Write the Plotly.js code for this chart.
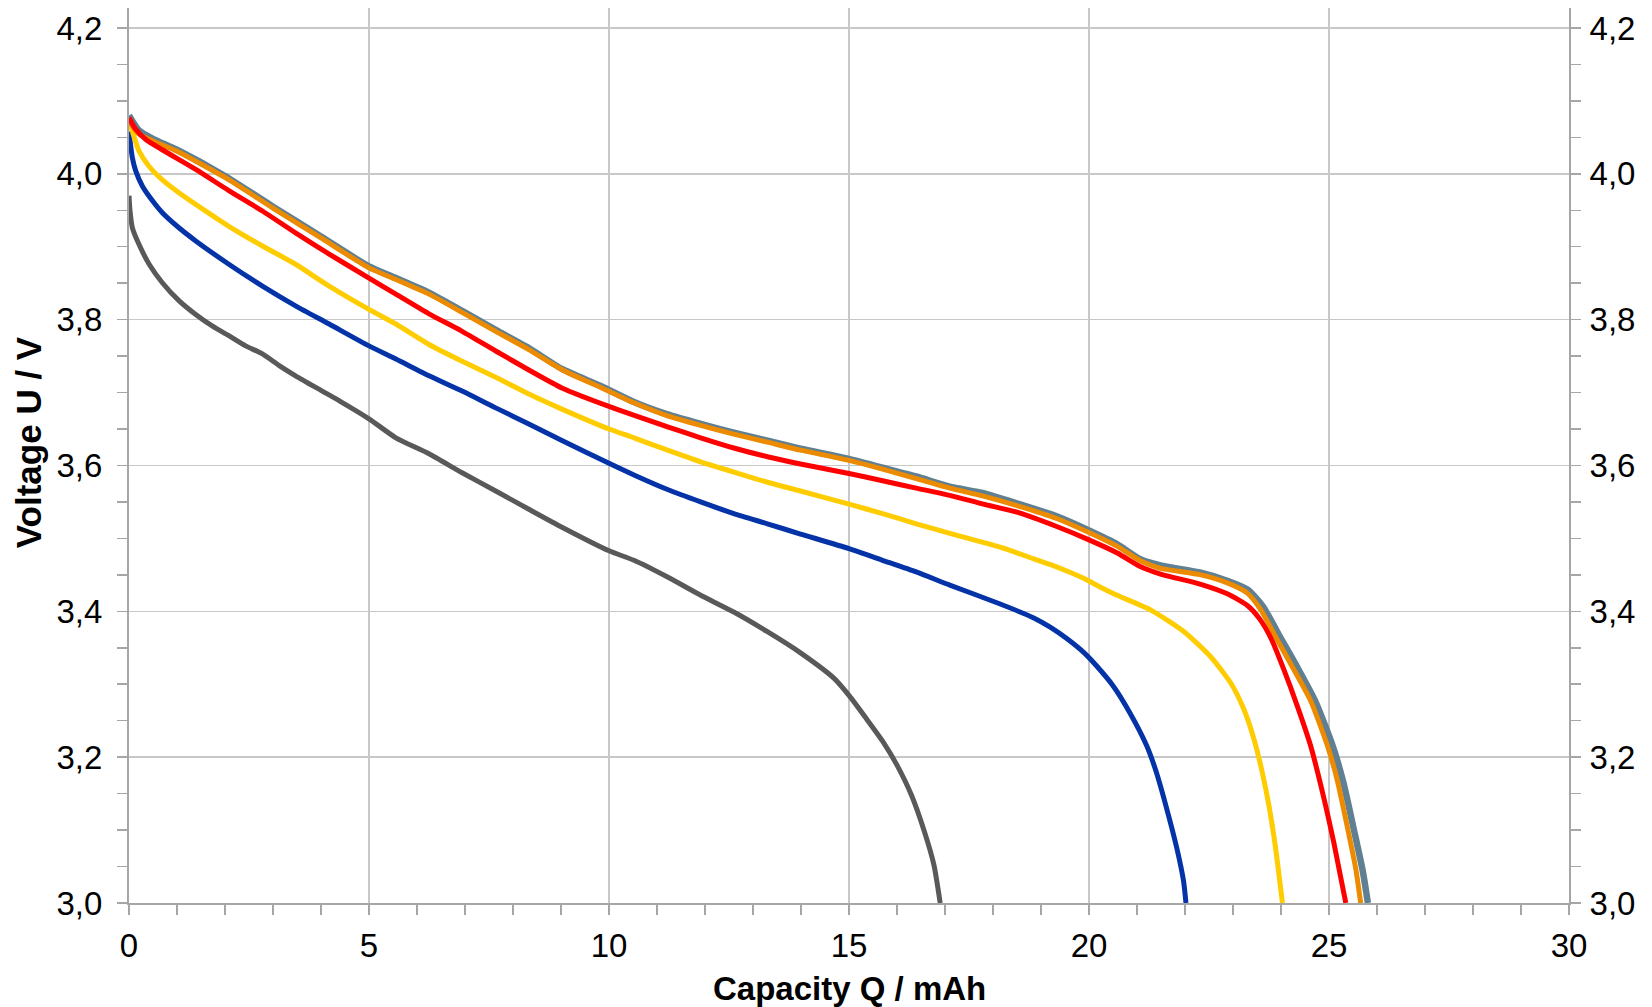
<!DOCTYPE html>
<html>
<head>
<meta charset="utf-8">
<script src="https://cdn.plot.ly/plotly-3.0.1.min.js"></script>
<style>
  html, body { margin: 0; padding: 0; background: #ffffff; }
  #chart { width: 1652px; height: 1007px; }
</style>
</head>
<body>
<div id="chart"></div>
<script>
// ---- Data (Capacity Q / mAh vs Voltage U / V) ----
const grayQ = [0, 0.02, 0.07, 0.21, 0.42, 0.69, 1.04, 1.39, 1.74, 2.08, 2.43, 2.78, 3.13, 3.47, 4.0, 4.4, 5.0, 5.56, 6.25, 6.94, 7.64, 8.33, 9.03, 10.0, 10.52, 11.22, 11.91, 12.6, 13.3, 13.99, 14.69, 15.02, 15.37, 15.72, 16.0, 16.3, 16.57, 16.77, 16.9];
const grayU = [3.97, 3.95, 3.926, 3.903, 3.876, 3.851, 3.826, 3.807, 3.791, 3.778, 3.764, 3.753, 3.737, 3.723, 3.703, 3.688, 3.664, 3.638, 3.616, 3.590, 3.565, 3.540, 3.515, 3.483, 3.470, 3.447, 3.422, 3.399, 3.372, 3.343, 3.308, 3.283, 3.252, 3.220, 3.189, 3.148, 3.098, 3.052, 3.0];

const blueQ = [0, 0.07, 0.14, 0.28, 0.49, 0.69, 1.04, 1.39, 2.08, 2.78, 3.47, 4.17, 5.0, 5.56, 6.25, 6.94, 7.64, 8.33, 9.03, 10.0, 10.52, 11.22, 11.91, 12.6, 13.3, 13.99, 15.0, 15.7, 16.4, 17.1, 18.15, 18.85, 19.2, 19.55, 19.9, 20.16, 20.5, 20.85, 21.2, 21.4, 21.6, 21.83, 21.97, 22.02];
const blueU = [4.058, 4.022, 4.004, 3.983, 3.963, 3.947, 3.926, 3.908, 3.876, 3.846, 3.819, 3.794, 3.764, 3.746, 3.723, 3.702, 3.679, 3.657, 3.634, 3.603, 3.587, 3.567, 3.550, 3.534, 3.520, 3.506, 3.486, 3.470, 3.454, 3.436, 3.410, 3.391, 3.378, 3.362, 3.343, 3.325, 3.298, 3.261, 3.216, 3.180, 3.134, 3.075, 3.030, 3.0];

const yellowQ = [0, 0.07, 0.21, 0.42, 0.69, 1.04, 1.39, 2.08, 2.78, 3.47, 4.17, 5.0, 5.56, 6.25, 6.94, 7.64, 8.33, 9.03, 10.0, 10.52, 11.22, 11.91, 12.6, 13.3, 13.99, 15.0, 15.7, 16.4, 17.1, 18.15, 18.85, 19.2, 19.55, 19.9, 20.24, 20.55, 21.28, 21.98, 22.53, 22.95, 23.23, 23.44, 23.61, 23.75, 23.89, 24.03];
const yellowU = [4.072, 4.058, 4.031, 4.010, 3.992, 3.974, 3.958, 3.928, 3.901, 3.876, 3.846, 3.814, 3.794, 3.766, 3.743, 3.721, 3.698, 3.677, 3.650, 3.638, 3.621, 3.605, 3.591, 3.577, 3.565, 3.547, 3.534, 3.520, 3.507, 3.488, 3.472, 3.464, 3.455, 3.445, 3.433, 3.423, 3.402, 3.372, 3.338, 3.302, 3.265, 3.224, 3.179, 3.133, 3.074, 3.0];

const redQ = [0, 0.14, 0.35, 0.69, 1.39, 2.08, 2.78, 3.47, 4.17, 5.0, 5.56, 6.25, 6.94, 7.64, 8.33, 9.03, 10.0, 11.22, 11.91, 12.6, 13.3, 13.99, 15.0, 15.7, 16.4, 17.1, 17.8, 18.5, 19.34, 20.0, 20.59, 21.08, 21.49, 22.33, 22.88, 23.3, 23.55, 23.8, 24.06, 24.34, 24.62, 24.9, 25.1, 25.35];
const redU = [4.077, 4.061, 4.047, 4.033, 4.006, 3.977, 3.949, 3.919, 3.890, 3.857, 3.835, 3.808, 3.784, 3.757, 3.731, 3.706, 3.681, 3.653, 3.638, 3.624, 3.612, 3.602, 3.589, 3.579, 3.569, 3.559, 3.547, 3.536, 3.516, 3.498, 3.480, 3.461, 3.451, 3.437, 3.424, 3.408, 3.390, 3.362, 3.320, 3.270, 3.215, 3.142, 3.083, 3.0];

const steelQ = [0, 0.2, 0.5, 1.0, 2.0, 3.0, 4.0, 5.0, 5.56, 6.25, 6.94, 7.64, 8.33, 9.03, 9.83, 10.52, 11.22, 11.91, 12.6, 13.3, 13.99, 15.0, 15.7, 16.4, 17.1, 17.8, 18.5, 19.34, 20.0, 20.59, 21.08, 21.49, 22.33, 22.88, 23.3, 23.62, 23.98, 24.35, 24.72, 25.08, 25.3, 25.52, 25.7, 25.81];
const steelU = [4.080, 4.060, 4.048, 4.033, 3.997, 3.955, 3.914, 3.873, 3.857, 3.837, 3.812, 3.786, 3.761, 3.732, 3.709, 3.687, 3.670, 3.657, 3.645, 3.634, 3.623, 3.609, 3.597, 3.585, 3.571, 3.562, 3.548, 3.530, 3.511, 3.492, 3.471, 3.463, 3.453, 3.442, 3.430, 3.407, 3.365, 3.322, 3.276, 3.215, 3.165, 3.100, 3.045, 3.0];

const orangeQ = [0, 0.2, 0.5, 1.0, 2.0, 3.0, 4.0, 5.0, 5.56, 6.25, 6.94, 7.64, 8.33, 9.03, 9.83, 10.52, 11.22, 11.91, 12.6, 13.3, 13.99, 15.0, 15.7, 16.4, 17.1, 17.8, 18.5, 19.34, 20.0, 20.59, 21.08, 21.49, 22.33, 22.88, 23.3, 23.58, 23.92, 24.27, 24.62, 24.97, 25.17, 25.38, 25.56, 25.66];
const orangeU = [4.072, 4.055, 4.045, 4.031, 3.995, 3.953, 3.912, 3.871, 3.855, 3.835, 3.810, 3.784, 3.759, 3.731, 3.707, 3.686, 3.668, 3.655, 3.643, 3.632, 3.621, 3.607, 3.595, 3.582, 3.569, 3.558, 3.545, 3.527, 3.508, 3.489, 3.469, 3.459, 3.450, 3.439, 3.425, 3.402, 3.361, 3.320, 3.277, 3.215, 3.169, 3.105, 3.046, 3.0];

const xTickVals = [0, 5, 10, 15, 20, 25, 30];
const yTickVals = [3.0, 3.2, 3.4, 3.6, 3.8, 4.0, 4.2];
const xTitle = 'Capacity Q / mAh';
const yTitle = 'Voltage U / V';

const FONT = '"Liberation Sans", Arial, sans-serif';

function line(x, y, color, width) {
  return {
    x: x, y: y, type: 'scatter', mode: 'lines',
    line: { color: color, width: width, shape: 'spline', smoothing: 0.6 },
    hoverinfo: 'skip', showlegend: false
  };
}

const traces = [
  line(grayQ, grayU, '#595959', 5),
  line(blueQ, blueU, '#0433a8', 5),
  line(yellowQ, yellowU, '#ffcc00', 5),
  line(steelQ, steelU, '#5f7f93', 6.5),
  line(orangeQ, orangeU, '#ec8a00', 5),
  line(redQ, redU, '#ff0000', 5)
];
// invisible trace to activate the right axis
traces.push({ x: [0], y: [3.0], yaxis: 'y2', type: 'scatter', mode: 'markers',
  marker: { opacity: 0 }, hoverinfo: 'skip', showlegend: false });

const axisCommon = {
  showline: true, linecolor: '#a6a6a6', linewidth: 2,
  ticks: 'outside', ticklen: 10, tickwidth: 1.5, tickcolor: '#a6a6a6',
  tickfont: { family: FONT, size: 33, color: '#000000' },
  zeroline: false
};
const minorY = { dtick: 0.05, tick0: 3.0, ticklen: 10, tickwidth: 1.5, tickcolor: '#a6a6a6', ticks: 'outside', showgrid: false };

const layout = {
  width: 1652, height: 1007,
  margin: { l: 129, r: 83, t: 8, b: 104 },
  paper_bgcolor: '#ffffff', plot_bgcolor: '#ffffff',
  separators: ',.',
  font: { family: FONT, color: '#000000' },
  xaxis: Object.assign({}, axisCommon, {
    range: [0, 30], tickvals: xTickVals, ticktext: xTickVals.map(String),
    showgrid: true, gridcolor: '#c8c8c8', gridwidth: 1.5,
    ticklabelstandoff: 2,
    minor: { dtick: 1, tick0: 0, ticklen: 10, tickwidth: 1.5, tickcolor: '#a6a6a6', ticks: 'outside', showgrid: false }
  }),
  yaxis: Object.assign({}, axisCommon, {
    range: [3.0, 4.2274], tickvals: yTickVals, tickformat: '.1f',
    showgrid: true, gridcolor: '#c8c8c8', gridwidth: 1.5,
    ticklabelstandoff: 8,
    minor: minorY
  }),
  yaxis2: Object.assign({}, axisCommon, {
    overlaying: 'y', side: 'right', matches: 'y',
    range: [3.0, 4.2274], tickvals: yTickVals, tickformat: '.1f',
    showgrid: false, ticklabelstandoff: 2,
    minor: minorY
  }),
  annotations: [
    { text: '<b>' + xTitle + '</b>', xref: 'paper', yref: 'paper',
      x: 0.5, y: -0.095, xanchor: 'center', yanchor: 'middle', showarrow: false,
      font: { family: FONT, size: 33, color: '#000000' } },
    { text: '<b>' + yTitle + '</b>', xref: 'paper', yref: 'paper', textangle: -90,
      x: -0.0701, y: 0.515, xanchor: 'center', yanchor: 'middle', showarrow: false,
      font: { family: FONT, size: 35, color: '#000000' } }
  ]
};

Plotly.newPlot('chart', traces, layout, { displayModeBar: false, staticPlot: true });
</script>
</body>
</html>
